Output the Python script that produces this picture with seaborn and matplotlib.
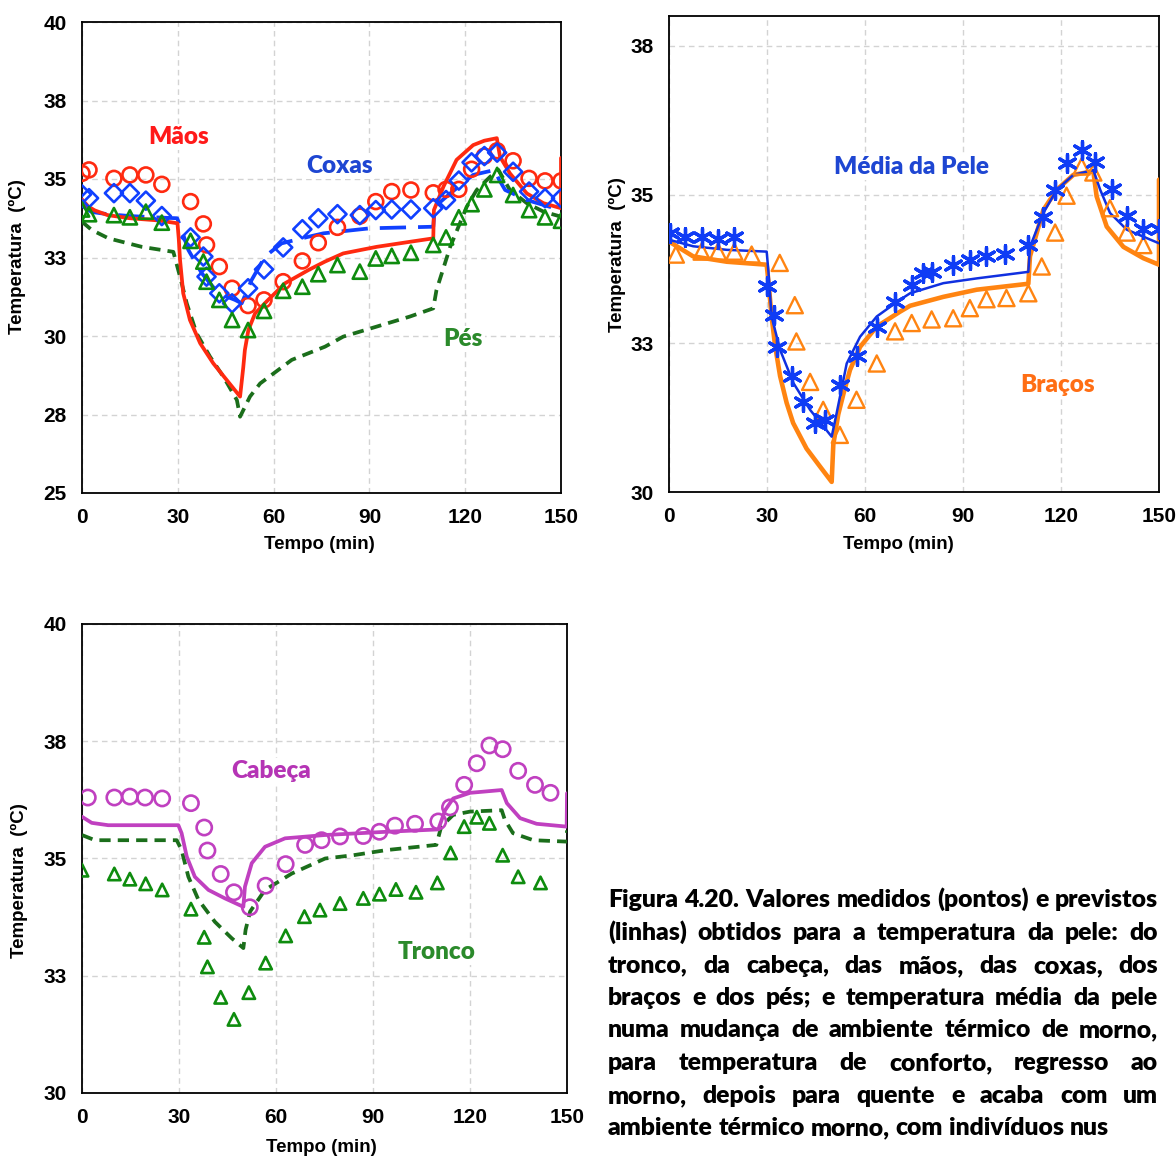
import numpy as np
import pandas as pd
import matplotlib
matplotlib.use("Agg")
import matplotlib.pyplot as plt
import seaborn as sns

# ---------------- data ----------------
# Panel 1 (Mãos, Coxas, Pés) - measured points
t_p1 = [0, 2.2, 10, 15, 20, 25, 34, 38, 39, 43, 47, 52, 57, 63, 69, 74, 80, 87, 92, 97, 103, 110, 114, 118, 122, 126, 130, 135, 140, 145, 150]
maos_pts = [35.18, 35.29, 35.02, 35.13, 35.13, 34.83, 34.28, 33.57, 32.9, 32.21, 31.52, 30.97, 31.15, 31.73, 32.39, 32.97, 33.46, 33.82, 34.28, 34.6, 34.65, 34.56, 34.67, 34.67, 35.31, 35.73, 35.9, 35.58, 35.02, 34.94, 34.94]
coxas_pts = [34.51, 34.39, 34.55, 34.55, 34.31, 33.82, 33.14, 32.53, 31.89, 31.36, 31.04, 31.52, 32.12, 32.82, 33.4, 33.75, 33.88, 33.85, 34.01, 34.03, 34.03, 34.07, 34.33, 34.95, 35.53, 35.73, 35.84, 35.23, 34.6, 34.39, 34.39]
pes_pts = [34.03, 33.88, 33.85, 33.78, 33.96, 33.61, 33.03, 32.37, 31.73, 31.15, 30.51, 30.19, 30.8, 31.44, 31.57, 31.97, 32.26, 32.05, 32.47, 32.55, 32.65, 32.9, 33.14, 33.78, 34.2, 34.67, 35.13, 34.49, 34.01, 33.78, 33.67]

# Panel 1 - predicted lines
maos_lt = [0, 2, 4, 8, 15, 24, 29.9, 30.3, 30.7, 31.7, 33.8, 37, 41.1, 45.3, 49.5, 50.5, 51, 52.1, 54.2, 58.3, 63.6, 70.9, 76.1, 81.8, 92.3, 102.7, 110, 110.2, 113.2, 117.3, 122.5, 126, 129.9, 130.9, 134, 139.3, 144.5, 150, 150]
maos_lv = [34.35, 34.12, 34.0, 33.85, 33.75, 33.68, 33.59, 33.1, 32.42, 31.36, 30.51, 29.77, 29.13, 28.6, 28.07, 29.0, 29.55, 30.19, 30.72, 31.15, 31.68, 32.1, 32.37, 32.63, 32.84, 33.0, 33.11, 34.01, 34.76, 35.61, 36.08, 36.22, 36.3, 35.71, 35.18, 34.54, 34.23, 34.07, 35.67]
coxas_lt = [0, 3, 8, 15, 25, 29.8, 31.2, 33.3, 37.5, 42.7, 47.9, 50, 53.1, 57.3, 62.5, 70.9, 75.6, 90.2, 110, 110.5, 115.3, 122.5, 129.3, 130.5, 132.5, 139.3, 150]
coxas_lv = [34.15, 33.95, 33.88, 33.82, 33.77, 33.75, 33.38, 32.74, 32.0, 31.36, 31.15, 31.04, 31.78, 32.53, 32.95, 33.16, 33.27, 33.43, 33.48, 34.12, 34.54, 35.13, 35.29, 35.0, 34.65, 34.33, 34.01]
pes_lt = [0, 3, 8.3, 18.7, 28.6, 30.7, 32.8, 35.9, 40.1, 44.3, 48.5, 49.5, 52.6, 55.8, 65.7, 76.1, 81.8, 92.3, 102.7, 110, 111, 115.3, 120.5, 123.6, 127.8, 130.4, 134, 139.3, 144.5, 150]
pes_lv = [33.64, 33.38, 33.11, 32.84, 32.68, 31.89, 31.04, 30.08, 29.34, 28.7, 27.96, 27.43, 28.07, 28.49, 29.24, 29.66, 29.98, 30.30, 30.62, 30.88, 31.46, 32.84, 34.12, 34.65, 35.07, 35.29, 34.65, 34.23, 33.96, 33.8]

# Panel 2 (Média da Pele, Braços)
media_t = [0.3, 4.9, 10, 15, 20, 30, 32, 33, 37.6, 41, 44.7, 47.8, 52.3, 57.4, 63.6, 69.2, 74.3, 77.8, 80.4, 87, 92, 97, 103, 110, 114.6, 118.2, 121.7, 126.3, 130.4, 135.5, 140.1, 145.2, 150]
media_pts = [34.36, 34.29, 34.29, 34.25, 34.28, 33.46, 32.98, 32.43, 31.95, 31.52, 31.16, 31.21, 31.8, 32.28, 32.78, 33.2, 33.48, 33.68, 33.7, 33.82, 33.9, 33.97, 34.0, 34.15, 34.62, 35.08, 35.53, 35.74, 35.55, 35.09, 34.64, 34.42, 34.42]
bracos_t = [2.1, 10, 15, 20, 25.3, 33.9, 38.5, 39, 43.2, 47.2, 52.3, 57.4, 63.6, 69.2, 74.3, 80.4, 87, 92.1, 97.2, 103.3, 110, 114.1, 118.2, 121.7, 126.3, 129.9, 135, 140.1, 145.2]
bracos_pts = [33.99, 34.04, 34.04, 34.04, 33.99, 33.85, 33.14, 32.53, 31.85, 31.38, 30.96, 31.55, 32.16, 32.7, 32.84, 32.9, 32.92, 33.09, 33.24, 33.26, 33.34, 33.79, 34.36, 34.98, 35.47, 35.37, 34.77, 34.36, 34.15]
media_lt = [0, 7.4, 17.7, 29.9, 30.4, 31.4, 34, 38.1, 43.2, 49.8, 51.3, 54.4, 58.5, 63.6, 70.7, 73.8, 84, 94.2, 110, 110.5, 114.6, 118.7, 123.8, 129.9, 132, 135, 140.1, 150]
media_lv = [34.24, 34.13, 34.07, 34.04, 33.73, 32.95, 32.39, 31.83, 31.38, 30.93, 31.32, 32.16, 32.61, 32.95, 33.23, 33.34, 33.51, 33.59, 33.7, 34.12, 34.69, 35.08, 35.33, 35.41, 35.08, 34.69, 34.41, 34.18]
bracos_lt = [0, 7.4, 17.7, 29.9, 30.4, 31.4, 32.5, 34, 36, 38, 42.1, 46.2, 49.8, 50.3, 51.8, 53.4, 55.4, 58.5, 63.6, 70.7, 73.8, 84, 94.2, 110, 110.5, 114.6, 118.7, 123.8, 129.9, 130.9, 134, 139.1, 145.2, 150, 150]
bracos_lv = [34.21, 33.96, 33.87, 33.82, 33.56, 32.95, 32.45, 31.95, 31.5, 31.16, 30.73, 30.43, 30.17, 30.8, 31.3, 31.65, 32.05, 32.44, 32.78, 33.03, 33.13, 33.28, 33.4, 33.5, 33.96, 34.74, 35.08, 35.33, 35.39, 34.97, 34.46, 34.12, 33.93, 33.82, 35.25]

# Panel 3 (Cabeça, Tronco)
cabeca_t = [1.8, 10, 14.8, 19.5, 24.8, 33.7, 37.8, 38.8, 42.9, 47, 51.9, 56.8, 63, 69, 74.1, 79.8, 87, 92, 96.8, 103, 110.2, 113.8, 118.2, 122.1, 126, 130.1, 134.9, 140.1, 144.9]
cabeca_pts = [36.3, 36.3, 36.32, 36.3, 36.28, 36.18, 35.66, 35.17, 34.67, 34.28, 33.96, 34.42, 34.88, 35.29, 35.39, 35.47, 35.48, 35.57, 35.7, 35.74, 35.79, 36.09, 36.57, 37.03, 37.41, 37.33, 36.87, 36.57, 36.4]
tronco_t = [0, 10, 14.8, 19.7, 24.8, 33.7, 37.8, 38.8, 42.9, 47, 51.6, 56.8, 63, 68.8, 73.6, 79.8, 87, 92, 97.1, 103.3, 109.9, 114, 118.2, 122.1, 126, 130.1, 134.9, 141.8]
tronco_pts = [34.75, 34.67, 34.56, 34.46, 34.33, 33.92, 33.32, 32.69, 32.04, 31.57, 32.14, 32.77, 33.35, 33.76, 33.9, 34.04, 34.15, 34.24, 34.34, 34.28, 34.48, 35.12, 35.68, 35.88, 35.75, 35.07, 34.61, 34.48]
cabeca_lt = [0, 3, 8.1, 20, 29.8, 30.8, 32.4, 34.9, 39.1, 44.2, 49.9, 50.4, 52.5, 56.6, 62.8, 75, 94.2, 110.2, 112.3, 114.8, 120, 129.8, 131.4, 135.5, 140.6, 149.9, 150]
cabeca_lv = [35.89, 35.76, 35.71, 35.71, 35.71, 35.54, 35.04, 34.61, 34.33, 34.15, 33.97, 34.4, 34.9, 35.25, 35.43, 35.5, 35.57, 35.62, 36.03, 36.28, 36.4, 36.46, 36.18, 35.86, 35.74, 35.68, 36.39]
tronco_lt = [0, 4, 13.3, 29.3, 30.8, 32.9, 36, 41.1, 46.3, 49.9, 50.6, 52, 56.6, 64.9, 75.2, 83.9, 94.2, 109.6, 111.1, 114.8, 120, 129.8, 130.8, 133.3, 139.6, 149.9, 150]
tronco_lv = [35.5, 35.39, 35.39, 35.39, 35.18, 34.61, 34.12, 33.65, 33.3, 33.09, 33.48, 33.87, 34.33, 34.68, 35.0, 35.07, 35.18, 35.29, 35.68, 35.93, 36.0, 36.03, 35.82, 35.54, 35.39, 35.36, 35.6]

# axes ticks
x_ticks = [0, 30, 60, 90, 120, 150]
x_labels = ["0", "30", "60", "90", "120", "150"]
y1_ticks = [25, 27.5, 30, 32.5, 35, 37.5, 40]
y1_labels = ["25", "28", "30", "33", "35", "38", "40"]
y2_ticks = [30, 32.5, 35, 37.5]
y2_labels = ["30", "33", "35", "38"]
y3_ticks = [30, 32.5, 35, 37.5, 40]
y3_labels = ["30", "33", "35", "38", "40"]

caption_lines = [
    "Figura 4.20. Valores medidos (pontos) e previstos",
    "(linhas) obtidos para a temperatura da pele: do",
    "tronco, da cabeça, das mãos, das coxas, dos",
    "braços e dos pés; e temperatura média da pele",
    "numa mudança de ambiente térmico de morno,",
    "para temperatura de conforto, regresso ao",
    "morno, depois para quente e acaba com um",
    "ambiente térmico morno, com indivíduos nus",
]

# ---------------- style ----------------
sns.set_theme(style="white")
plt.rcParams["font.family"] = ["Liberation Sans", "DejaVu Sans"]
plt.rcParams["font.weight"] = "bold"
plt.rcParams["axes.labelweight"] = "bold"
LABEL_FONT = ["Lato", "DejaVu Sans"]

W, H = 1176, 1159
fig = plt.figure(figsize=(W / 100, H / 100), dpi=100)
fig.patch.set_facecolor("white")


def px_axes(left, right, top, bottom):
    return fig.add_axes([left / W, 1 - bottom / H, (right - left) / W, (bottom - top) / H])


ax1 = px_axes(82, 561, 22, 493)
ax2 = px_axes(669, 1159, 16, 492)
ax3 = px_axes(82, 567, 624, 1093)


def draw_line(ax, t, v, color, lw, ls="-"):
    sns.lineplot(x=t, y=v, ax=ax, color=color, linewidth=lw, linestyle=ls,
                 sort=False, estimator=None, errorbar=None, zorder=3)


def draw_pts(ax, t, v, color, marker, s, lw):
    sns.scatterplot(x=t, y=v, ax=ax, marker=marker, s=s, color=color,
                    facecolor="none", edgecolor=color, linewidth=lw, zorder=4)


def style_axes(ax, ylim, yt, yl, xlab_xy, ylab_xy):
    ax.set_xlim(0, 150)
    ax.set_ylim(*ylim)
    ax.set_xticks(x_ticks)
    ax.set_xticklabels(x_labels, fontsize=15, fontweight="bold", color="black")
    ax.set_yticks(yt)
    ax.set_yticklabels(yl, fontsize=15, fontweight="bold", color="black")
    ax.set_axisbelow(True)
    ax.grid(True, color="#D3D3D3", linestyle=(0, (4, 3)), linewidth=1.0)
    for sp in ax.spines.values():
        sp.set_visible(True)
        sp.set_color("black")
        sp.set_linewidth(1.3)
    ax.tick_params(axis="both", direction="inout", length=8, width=1.3, color="black")
    ax.tick_params(axis="x", pad=7)
    ax.tick_params(axis="y", pad=7)
    ax.set_xlabel("Tempo (min)", fontsize=13.5, fontweight="bold", color="black")
    ax.set_ylabel("Temperatura  (ºC)", fontsize=13.5, fontweight="bold", color="black")
    ax.xaxis.set_label_coords(*xlab_xy)
    ax.xaxis.label.set_va("center")
    ax.yaxis.set_label_coords(*ylab_xy)
    ax.yaxis.label.set_va("center")
    ax.set_facecolor("white")


def label(ax, x, y, s, color):
    ax.text(x, y, s, ha="center", va="center", fontsize=17.5, fontweight="heavy",
            color=color, family=LABEL_FONT, zorder=2.5,
            bbox=dict(facecolor="white", edgecolor="none", pad=1.5))


RED = "#FF2A10"
BLUE = "#1040FF"
GREEN = "#0E8C0E"
DKGREEN = "#1B6E1B"
ORANGE = "#FF8411"
MAGENTA = "#C040C0"

# Panel 1
draw_line(ax1, pes_lt, pes_lv, DKGREEN, 2.7, (0, (3.0, 1.9)))
draw_line(ax1, coxas_lt, coxas_lv, BLUE, 2.7, (0, (7, 3.2)))
draw_line(ax1, maos_lt, maos_lv, RED, 2.7)
draw_pts(ax1, t_p1, maos_pts, RED, "o", 115, 1.9)
draw_pts(ax1, t_p1, coxas_pts, BLUE, "D", 85, 1.9)
draw_pts(ax1, t_p1, pes_pts, GREEN, "^", 105, 1.9)
style_axes(ax1, (25, 40), y1_ticks, y1_labels, (0.495, -0.110), (-0.134, 0.501))
label(ax1, 30.4, 36.34, "Mãos", "#FF1A1A")
label(ax1, 80.5, 35.41, "Coxas", "#1E46D2")
label(ax1, 119.3, 29.9, "Pés", "#2B8A2B")

# Panel 2
draw_line(ax2, bracos_lt, bracos_lv, ORANGE, 3.3)
draw_line(ax2, media_lt, media_lv, "#1030E0", 1.8)
draw_pts(ax2, bracos_t, bracos_pts, ORANGE, "^", 135, 1.7)
sns.scatterplot(x=media_t, y=media_pts, ax=ax2, marker=(6, 2, 0), s=160,
                color="#0F3CF5", linewidth=2.4, zorder=4)
style_axes(ax2, (30, 38), y2_ticks, y2_labels, (0.469, -0.111), (-0.106, 0.498))
label(ax2, 74.1, 35.46, "Média da Pele", "#1E46D2")
label(ax2, 119.1, 31.8, "Braços", "#FF6E14")

# Panel 3
draw_line(ax3, tronco_lt, tronco_lv, DKGREEN, 2.7, (0, (3.0, 1.9)))
draw_line(ax3, cabeca_lt, cabeca_lv, MAGENTA, 2.7)
draw_pts(ax3, cabeca_t, cabeca_pts, MAGENTA, "o", 120, 1.9)
draw_pts(ax3, tronco_t, tronco_pts, GREEN, "^", 80, 1.9)
style_axes(ax3, (30, 40), y3_ticks, y3_labels, (0.493, -0.117), (-0.128, 0.454))
label(ax3, 58.5, 36.87, "Cabeça", "#B534B5")
label(ax3, 109.8, 33.0, "Tronco", "#2B8A2B")

# ---------------- caption (justified) ----------------
fig.canvas.draw()
renderer = fig.canvas.get_renderer()
CAP_WEIGHT = "heavy"


def text_width(s, size):
    t = fig.text(0, 0, s, fontsize=size, fontweight=CAP_WEIGHT, family=LABEL_FONT)
    w = t.get_window_extent(renderer).width
    t.remove()
    return w


x_left, x_right = 608, 1158
w10 = text_width(caption_lines[-1], 10)
cap_size = 10 * 503 / w10
baselines = [907, 940, 973, 1005, 1037, 1070, 1103, 1135]
space_w = text_width("a a", cap_size) - text_width("aa", cap_size)
for i, (ln, yb) in enumerate(zip(caption_lines, baselines)):
    words = ln.split(" ")
    widths = [text_width(w, cap_size) for w in words]
    if i < len(caption_lines) - 1 and len(words) > 1:
        gap = (x_right - x_left - sum(widths)) / (len(words) - 1)
    else:
        gap = space_w
    x = x_left
    for w, wd in zip(words, widths):
        fig.text(x / W, 1 - yb / H, w, fontsize=cap_size, fontweight=CAP_WEIGHT,
                 family=LABEL_FONT, color="black", ha="left", va="baseline")
        x += wd + gap

fig.savefig("out.png", dpi=100, facecolor="white")
